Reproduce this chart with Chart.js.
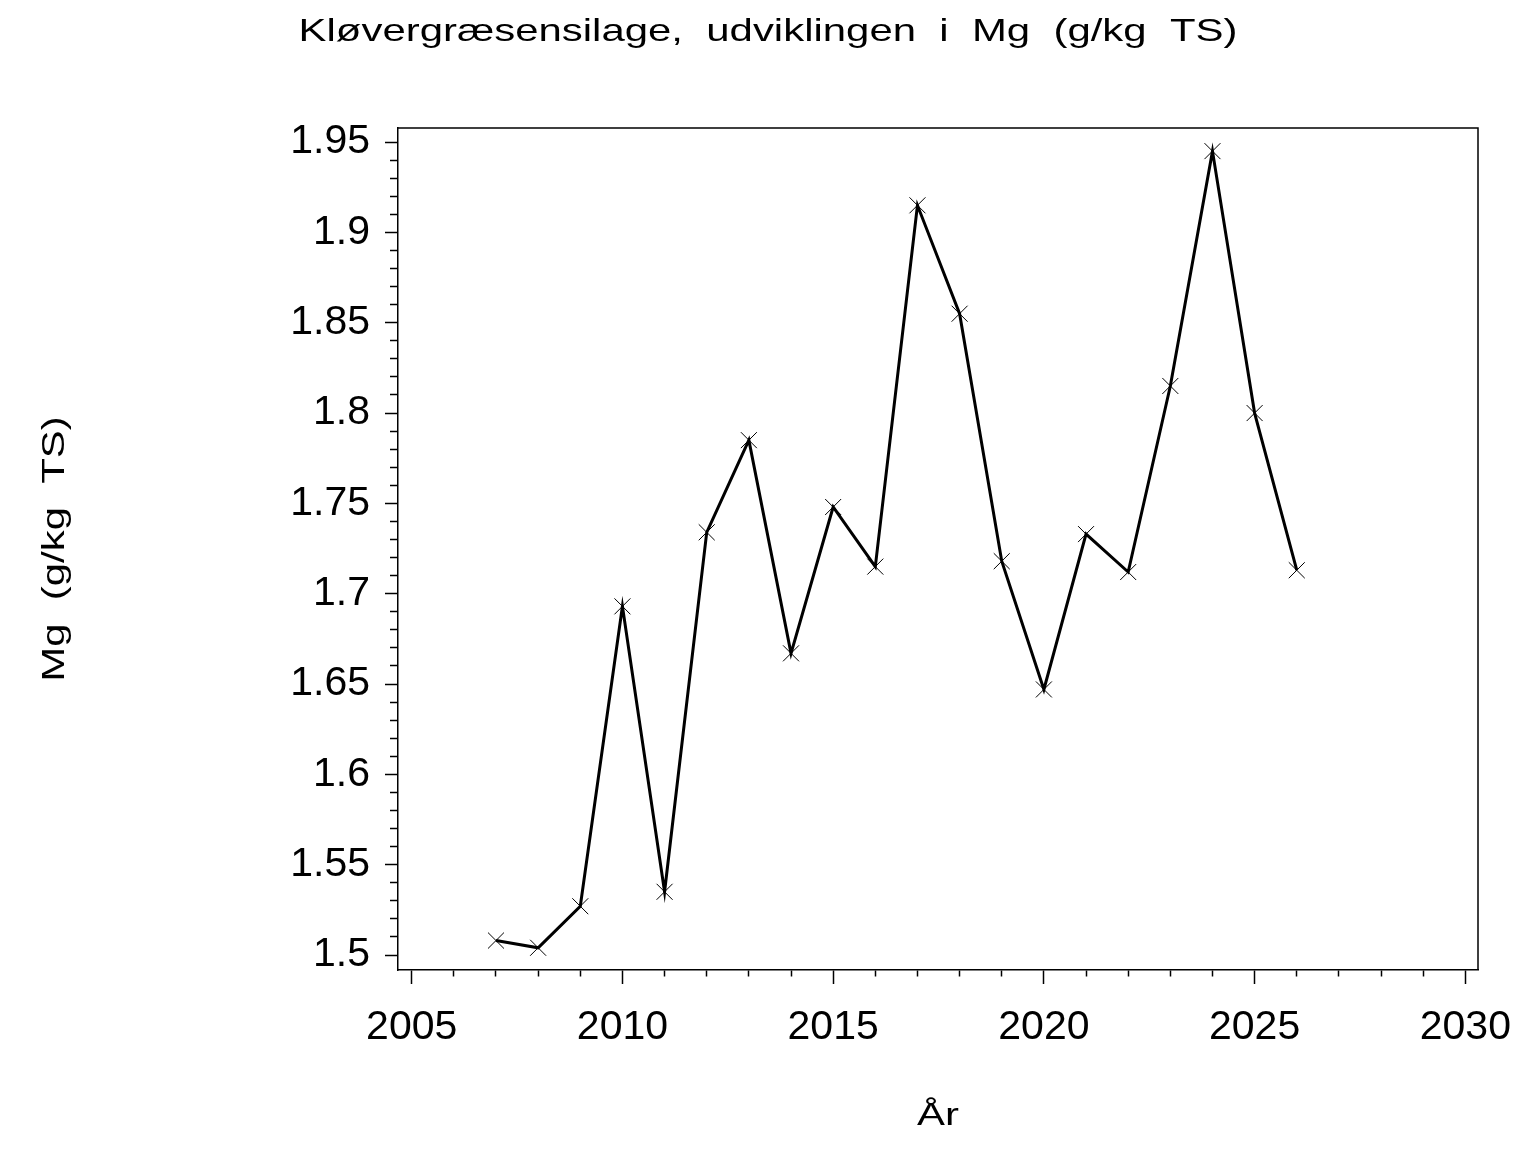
<!DOCTYPE html>
<html>
<head>
<meta charset="utf-8">
<script src="https://cdn.jsdelivr.net/npm/chart.js@4.4.1/dist/chart.umd.min.js"></script>
<style>
html,body{margin:0;padding:0;background:#fff;}
canvas{display:block;}
</style>
</head>
<body>
<canvas id="c" width="1536" height="1152"></canvas>
<script>
// ---- data ----
const titleText = 'Kløvergræsensilage,  udviklingen  i  Mg  (g/kg  TS)';
const yTitle = 'Mg  (g/kg  TS)';
const xTitle = 'År';
const years = [2007, 2008, 2009, 2010, 2011, 2012, 2013, 2014, 2015, 2016, 2017, 2018, 2019, 2020, 2021, 2022, 2023, 2024, 2025, 2026];
const mgValues = [1.508, 1.504, 1.527, 1.693, 1.535, 1.734, 1.785, 1.667, 1.748, 1.715, 1.915, 1.855, 1.718, 1.647, 1.733, 1.712, 1.815, 1.945, 1.800, 1.713];
const xMajorStep = 5;
const yMajorStep = 0.05;
const xRange = [2004.675, 2030.30];
const yRange = [1.4917, 1.9578];

const FONT = "'Liberation Sans', Arial, Helvetica, sans-serif";
const STRETCH = 1.31; // wide SAS-style lettering for titles
Chart.defaults.color = '#000';
Chart.defaults.font.family = FONT;

const stretchPlugin = {
  id: 'stretch',
  beforeDraw(chart) {
    const ctx = chart.ctx;
    const wrap = (obj, key, horizontal) => {
      if (!obj || obj['__w_' + key]) return;
      const orig = obj[key].bind(obj);
      obj[key] = function(...a) {
        ctx.save();
        const cx = (obj.left + obj.right) / 2;
        const cy = (obj.top + obj.bottom) / 2;
        ctx.translate(cx, cy);
        if (horizontal) ctx.scale(STRETCH, 1); else ctx.scale(1, STRETCH);
        ctx.translate(-cx, -cy);
        orig(...a);
        ctx.restore();
      };
      obj['__w_' + key] = true;
    };
    wrap(chart.titleBlock, 'draw', true);
    wrap(chart.scales.x, 'drawTitle', true);
    wrap(chart.scales.y, 'drawTitle', false);
  }
};

const framePlugin = {
  id: 'frame',
  afterDraw(chart) {
    const {ctx, chartArea: a} = chart;
    ctx.save();
    ctx.strokeStyle = '#000';
    ctx.lineWidth = 1.5;
    ctx.beginPath();
    ctx.moveTo(a.left, a.top);
    ctx.lineTo(a.right, a.top);
    ctx.lineTo(a.right, a.bottom);
    ctx.stroke();
    ctx.restore();
  }
};

const isMajor = (v, step) => Math.abs(v / step - Math.round(v / step)) < 1e-6;

new Chart(document.getElementById('c'), {
  type: 'line',
  data: {
    datasets: [{
      data: years.map((x, i) => ({x: x, y: mgValues[i]})),
      borderColor: '#000',
      borderWidth: 3,
      tension: 0,
      fill: false,
      pointStyle: 'crossRot',
      pointRadius: 11.3,
      pointBorderWidth: 1,
      pointBorderColor: '#000',
      pointBackgroundColor: '#000'
    }]
  },
  options: {
    responsive: false,
    animation: false,
    devicePixelRatio: 1,
    layout: {padding: 0},
    plugins: {
      legend: {display: false},
      tooltip: {enabled: false},
      title: {
        display: true,
        text: titleText,
        color: '#000',
        font: {size: 32, weight: 'normal', family: FONT},
        padding: {top: 13, bottom: 76.6}
      }
    },
    scales: {
      x: {
        type: 'linear',
        min: xRange[0],
        max: xRange[1],
        afterFit(s) { s.height = 182; },
        border: {display: true, color: '#000', width: 1.5},
        grid: {
          drawOnChartArea: false,
          drawTicks: true,
          tickLength: 14,
          tickWidth: 1.5,
          tickColor: '#000',
          tickBorderDash: (c) => isMajor(c.tick.value, xMajorStep) ? [] : [6, 100]
        },
        ticks: {
          stepSize: 1,
          includeBounds: false,
          autoSkip: false,
          maxRotation: 0,
          padding: 19,
          font: {size: 41, family: FONT},
          color: '#000',
          callback: (v) => isMajor(v, xMajorStep) ? String(Math.round(v)) : ''
        },
        title: {
          display: true,
          text: xTitle,
          color: '#000',
          font: {size: 32, family: FONT},
          padding: {top: 0, bottom: 17}
        }
      },
      y: {
        type: 'linear',
        min: yRange[0],
        max: yRange[1],
        afterFit(s) { s.width = 398; },
        border: {display: true, color: '#000', width: 1.5},
        grid: {
          drawOnChartArea: false,
          drawTicks: true,
          tickLength: 13,
          tickWidth: 1.5,
          tickColor: '#000',
          tickBorderDash: (c) => isMajor(c.tick.value, yMajorStep) ? [] : [0, 5, 8, 100]
        },
        ticks: {
          stepSize: 0.01,
          includeBounds: false,
          autoSkip: false,
          padding: 15,
          font: {size: 41, family: FONT},
          color: '#000',
          callback: (v) => isMajor(v, yMajorStep) ? String(Math.round(v * 100) / 100) : ''
        },
        title: {
          display: true,
          text: yTitle,
          color: '#000',
          font: {size: 32, family: FONT},
          padding: {top: 36, bottom: 0}
        }
      },
      yRightSpace: {
        type: 'linear',
        position: 'right',
        display: true,
        afterFit(s) { s.width = 58; },
        border: {display: false},
        grid: {display: false, drawTicks: false},
        ticks: {display: false}
      }
    }
  },
  plugins: [stretchPlugin, framePlugin]
});
</script>
</body>
</html>
